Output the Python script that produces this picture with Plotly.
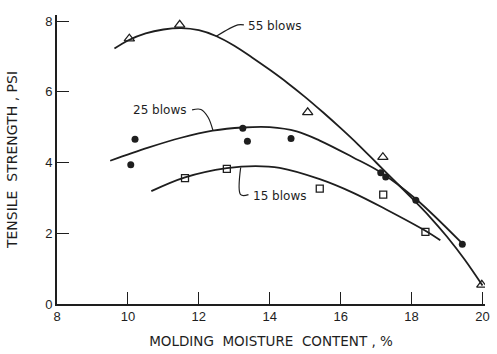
import plotly.graph_objects as go

# Fitted curves
c55_x = [9.62, 10.0, 10.5, 11.0, 11.5, 12.0, 12.5, 13.0, 13.5, 14.0, 14.5, 15.0, 15.5, 16.0, 16.5, 17.0, 17.5, 18.0, 18.5, 19.0, 19.5, 20.0]
c55_y = [7.22, 7.45, 7.65, 7.76, 7.8, 7.74, 7.57, 7.3, 6.97, 6.62, 6.25, 5.85, 5.42, 4.97, 4.5, 4.0, 3.5, 3.0, 2.48, 1.9, 1.25, 0.52]

c25_x = [9.5, 10.57, 11.5, 12.39, 13.24, 14.0, 14.76, 15.41, 16.34, 17.13, 18.12, 19.42]
c25_y = [4.05, 4.42, 4.7, 4.9, 4.99, 5.0, 4.88, 4.62, 4.15, 3.72, 2.97, 1.72]

c15_x = [10.66, 11.61, 12.79, 13.6, 14.28, 15.41, 16.34, 17.27, 18.39, 18.81]
c15_y = [3.19, 3.58, 3.84, 3.9, 3.85, 3.53, 3.15, 2.68, 2.07, 1.8]

# Measured points
p55_x = [10.04, 11.46, 15.07, 17.19, 19.98]
p55_y = [7.5, 7.89, 5.42, 4.15, 0.54]

p25_x = [10.08, 10.2, 13.24, 13.37, 14.6, 17.13, 17.27, 18.12, 19.43]
p25_y = [3.94, 4.66, 4.97, 4.6, 4.68, 3.71, 3.59, 2.93, 1.69]

p15_x = [11.61, 12.79, 15.41, 17.2, 18.39]
p15_y = [3.56, 3.82, 3.26, 3.09, 2.04]

x_ticks = [8, 10, 12, 14, 16, 18, 20]
y_ticks = [0, 2, 4, 6, 8]

# Label leaders
lead55_x = [12.48, 13.1, 13.27]
lead55_y = [7.56, 7.89, 7.89]
lead25_x = [11.81, 12.06, 12.26, 12.4]
lead25_y = [5.49, 5.5, 5.28, 4.9]
lead15_x = [13.18, 13.18, 13.4]
lead15_y = [3.86, 3.09, 3.09]

labels = ["55 blows", "25 blows", "15 blows"]
label_x = [13.32, 11.7, 13.46]
label_y = [7.86, 5.49, 3.04]
label_anchor = ["left", "right", "left"]

INK = "#1e1e1e"
FONT = "DejaVu Sans, Liberation Sans, sans-serif"
fig = go.Figure()

for cx, cy in [(c55_x, c55_y), (c25_x, c25_y), (c15_x, c15_y)]:
    fig.add_trace(go.Scatter(x=cx, y=cy, mode="lines", line=dict(color=INK, width=1.8, shape="spline"),
                             hoverinfo="skip", showlegend=False))

for lx, ly in [(lead55_x, lead55_y), (lead25_x, lead25_y), (lead15_x, lead15_y)]:
    fig.add_trace(go.Scatter(x=lx, y=ly, mode="lines", line=dict(color=INK, width=1.2, shape="spline"),
                             hoverinfo="skip", showlegend=False))

fig.add_trace(go.Scatter(x=p55_x, y=p55_y, mode="markers", showlegend=False,
                         marker=dict(symbol="triangle-up-open", size=9, color=INK, line=dict(width=1.3))))
fig.add_trace(go.Scatter(x=p25_x, y=p25_y, mode="markers", showlegend=False,
                         marker=dict(symbol="circle", size=7, color=INK)))
fig.add_trace(go.Scatter(x=p15_x, y=p15_y, mode="markers", showlegend=False,
                         marker=dict(symbol="square-open", size=7, color=INK, line=dict(width=1.3))))

for t, x, y, a in zip(labels, label_x, label_y, label_anchor):
    fig.add_annotation(x=x, y=y, text=t, showarrow=False, xanchor=a, yanchor="middle",
                       font=dict(family=FONT, size=12, color=INK))

fig.update_layout(
    width=497, height=354,
    margin=dict(l=57, r=7, t=15, b=48),
    paper_bgcolor="white", plot_bgcolor="white",
    font=dict(family=FONT, color=INK),
)
fig.update_xaxes(range=[8, 20.07], tickvals=x_ticks, ticktext=[str(v) for v in x_ticks],
                 showgrid=False, zeroline=False, showline=True, linecolor=INK, linewidth=1.6,
                 ticks="inside", ticklen=12, tickwidth=1.4, tickcolor=INK,
                 tickfont=dict(family="Liberation Sans, Arial, sans-serif", size=13, color=INK),
                 title=dict(text="MOLDING  MOISTURE  CONTENT , %", font=dict(size=13.5, color=INK), standoff=13))
fig.update_yaxes(range=[0, 8.17], tickvals=y_ticks, ticktext=[str(v) for v in y_ticks],
                 showgrid=False, zeroline=False, showline=True, linecolor=INK, linewidth=1.6,
                 ticks="inside", ticklen=12, tickwidth=1.4, tickcolor=INK,
                 tickfont=dict(family="Liberation Sans, Arial, sans-serif", size=13, color=INK),
                 title=dict(text="TENSILE  STRENGTH , PSI", font=dict(size=14, color=INK), standoff=24))

fig.write_html("out.html")
